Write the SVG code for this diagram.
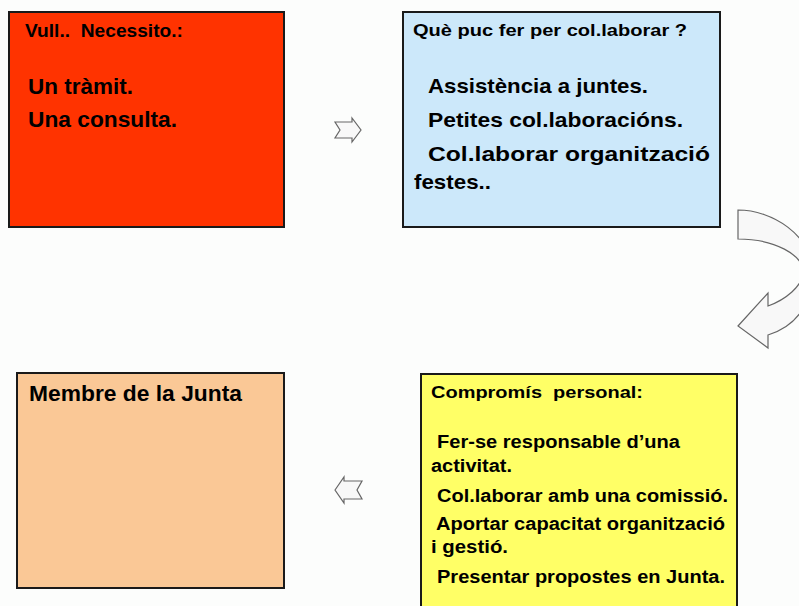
<svg xmlns="http://www.w3.org/2000/svg" width="799" height="606" viewBox="0 0 799 606">
<style>
.box{stroke:#1a1a1a;stroke-width:2}
text{font-family:"Liberation Sans",Arial,sans-serif;font-weight:bold;fill:#000}
.arr{fill:#f8f8f8;stroke:#666;stroke-width:1.2;stroke-linejoin:miter}
</style>
<rect width="799" height="606" fill="#fcfdfc"/>
<g id="connectors">
<polygon class="arr" points="335,122 352,122 352,118 361,130 352,142 352,138 335,138 340,130"/>
<polygon class="arr" points="335,490 344,477 344,481 362,481 357,490 362,499 344,499 344,503"/>
<path class="arr" d="M738,210 C772,210 812,235 812,272 C812,300 800,325 768,335 L768,348 L738,326 L768,293 L768,306 C785,300 803,286 803,272 C803,255 775,239 738,239 Z"/>
</g>
<g id="node-vull">
<rect class="box" x="9" y="12" width="275" height="215" fill="#ff3300"/>
<text x="25" y="36.5" font-size="18" textLength="158" lengthAdjust="spacingAndGlyphs" xml:space="preserve">Vull..  Necessito.:</text>
<text x="28" y="94" font-size="21.5" textLength="105" lengthAdjust="spacingAndGlyphs">Un tràmit.</text>
<text x="28" y="127" font-size="21.5" textLength="149" lengthAdjust="spacingAndGlyphs">Una consulta.</text>
</g>
<g id="node-que">
<rect class="box" x="403" y="12" width="317" height="215" fill="#cce8fa"/>
<text x="413" y="35.5" font-size="17" textLength="274" lengthAdjust="spacingAndGlyphs">Què puc fer per col.laborar ?</text>
<text x="428" y="93" font-size="21" textLength="220" lengthAdjust="spacingAndGlyphs">Assistència a juntes.</text>
<text x="428" y="126.5" font-size="21" textLength="255" lengthAdjust="spacingAndGlyphs">Petites col.laboracións.</text>
<text x="428" y="161" font-size="21" textLength="282" lengthAdjust="spacingAndGlyphs">Col.laborar organització</text>
<text x="414" y="189" font-size="21" textLength="77" lengthAdjust="spacingAndGlyphs">festes..</text>
</g>
<g id="node-membre">
<rect class="box" x="17" y="373" width="267" height="215" fill="#fac896"/>
<text x="29" y="401" font-size="22.5" textLength="213" lengthAdjust="spacingAndGlyphs">Membre de la Junta</text>
</g>
<g id="node-compromis">
<rect class="box" x="421" y="374" width="316" height="240" fill="#ffff66"/>
<text x="431" y="398" font-size="17" textLength="212" lengthAdjust="spacingAndGlyphs" xml:space="preserve">Compromís  personal:</text>
<text x="437" y="448" font-size="18" textLength="243" lengthAdjust="spacingAndGlyphs">Fer-se responsable d’una</text>
<text x="431" y="472" font-size="18" textLength="81" lengthAdjust="spacingAndGlyphs">activitat.</text>
<text x="437" y="502" font-size="18" textLength="291" lengthAdjust="spacingAndGlyphs">Col.laborar amb una comissió.</text>
<text x="436" y="530" font-size="18" textLength="289" lengthAdjust="spacingAndGlyphs">Aportar capacitat organització</text>
<text x="431" y="553" font-size="18" textLength="77" lengthAdjust="spacingAndGlyphs">i gestió.</text>
<text x="437" y="583" font-size="18" textLength="288" lengthAdjust="spacingAndGlyphs">Presentar propostes en Junta.</text>
</g>
</svg>
